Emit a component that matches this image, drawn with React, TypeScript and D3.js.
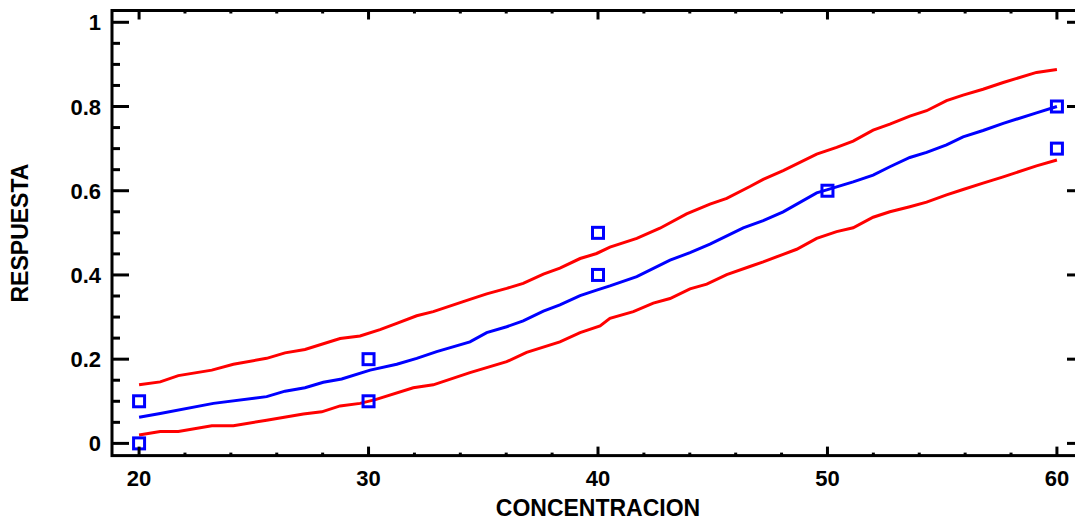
import React from "react";
import * as d3 from "d3";

// observed points
const obsX = [20, 20, 30, 30, 40, 40, 50, 60, 60];
const obsY = [0, 0.1, 0.1, 0.2, 0.4, 0.5, 0.6, 0.7, 0.8];

// fitted line (blue)
const fitX = [20, 20.92, 23.24, 25.56, 26.36, 27.23, 28.03, 28.83, 30.07, 31.23, 32.1, 32.97, 34.42, 35.15, 36.02, 36.74, 37.62, 38.34, 39.22, 39.94, 40.52, 41.69, 43.14, 44.01, 44.88, 46.33, 47.2, 48.07, 49.53, 49.97, 51.12, 51.99, 52.72, 53.59, 54.32, 55.19, 55.91, 56.78, 57.66, 59.11, 60];
const fitY = [0.062, 0.071, 0.095, 0.111, 0.124, 0.132, 0.145, 0.153, 0.174, 0.188, 0.202, 0.218, 0.241, 0.263, 0.277, 0.291, 0.314, 0.329, 0.351, 0.364, 0.374, 0.396, 0.435, 0.453, 0.473, 0.512, 0.529, 0.55, 0.595, 0.602, 0.621, 0.637, 0.657, 0.679, 0.691, 0.709, 0.728, 0.743, 0.76, 0.785, 0.8];

// upper limit (red)
const upX = [20, 20.92, 21.71, 23.17, 24.11, 25.56, 26.36, 27.23, 28.76, 29.63, 30.5, 31.23, 32.1, 32.82, 34.42, 35.15, 36.02, 36.74, 37.62, 38.34, 39.22, 39.94, 40.52, 41.69, 42.7, 43.86, 44.88, 45.61, 46.62, 47.2, 48.07, 49.53, 50.4, 51.12, 51.99, 52.72, 53.59, 54.32, 55.19, 55.91, 56.78, 57.66, 59.11, 60];
const upY = [0.139, 0.146, 0.161, 0.174, 0.188, 0.202, 0.215, 0.223, 0.249, 0.255, 0.27, 0.285, 0.303, 0.313, 0.342, 0.355, 0.368, 0.38, 0.402, 0.416, 0.439, 0.451, 0.466, 0.487, 0.511, 0.545, 0.568, 0.582, 0.61, 0.627, 0.648, 0.687, 0.703, 0.718, 0.744, 0.758, 0.777, 0.79, 0.814, 0.827, 0.841, 0.857, 0.881, 0.888];

// lower limit (red)
const loX = [20, 20.92, 21.71, 23.17, 24.11, 25.56, 27.16, 27.96, 28.76, 29.63, 30.3, 31.95, 32.82, 34.42, 36.02, 36.89, 38.34, 39.22, 40.09, 40.52, 41.54, 42.41, 43.14, 44.01, 44.74, 45.61, 46.62, 47.2, 48.07, 48.66, 49.53, 50.4, 51.12, 51.99, 52.72, 53.59, 54.32, 55.19, 55.91, 56.78, 57.66, 59.11, 60];
const loY = [0.02, 0.028, 0.028, 0.042, 0.042, 0.055, 0.07, 0.075, 0.089, 0.095, 0.104, 0.132, 0.139, 0.168, 0.194, 0.216, 0.241, 0.263, 0.279, 0.297, 0.313, 0.333, 0.344, 0.367, 0.378, 0.401, 0.42, 0.431, 0.449, 0.461, 0.487, 0.503, 0.512, 0.537, 0.55, 0.562, 0.573, 0.59, 0.603, 0.618, 0.633, 0.659, 0.673];

const xMajor = [20, 30, 40, 50, 60];
const yMajor = [0, 0.2, 0.4, 0.6, 0.8, 1];

const W = 1075;
const H = 522;
const left = 112;
const right = 1084;
const top = 10.5;
const bottom = 455.6;
const font = "'Liberation Sans', Arial, sans-serif";

export default function App() {
  const x = d3.scaleLinear().domain([18.82, 61.18]).range([left, right]);
  const y = d3.scaleLinear().domain([-0.029, 1.028]).range([bottom, top]);

  const xMinor = d3.range(20, 61, 2).filter((v) => !xMajor.includes(v));
  const yMinor = d3.range(0, 1.001, 0.05).map((v) => +v.toFixed(2)).filter((v) => !yMajor.includes(v));

  const line = d3
    .line<[number, number]>()
    .x((d) => x(d[0]))
    .y((d) => y(d[1]));

  const zip = (a: number[], b: number[]) => a.map((v, i) => [v, b[i]] as [number, number]);

  return (
    <svg width={W} height={H} style={{ position: "absolute", left: 0, top: 0, display: "block" }}>
      <rect width={W} height={H} fill="#fff" />

      <path d={line(zip(upX, upY)) || ""} fill="none" stroke="#ff0000" strokeWidth={3} />
      <path d={line(zip(loX, loY)) || ""} fill="none" stroke="#ff0000" strokeWidth={3} />
      <path d={line(zip(fitX, fitY)) || ""} fill="none" stroke="#0000ff" strokeWidth={3} />

      {obsX.map((v, i) => (
        <rect
          key={i}
          x={x(v) - 5.5}
          y={y(obsY[i]) - 5.5}
          width={11}
          height={11}
          fill="none"
          stroke="#0000ff"
          strokeWidth={3}
        />
      ))}

      {/* frame */}
      <rect x={left} y={top} width={right - left} height={bottom - top} fill="none" stroke="#000" strokeWidth={3} />

      {/* x ticks */}
      {xMajor.map((v) => (
        <g key={"xm" + v}>
          <line x1={x(v)} x2={x(v)} y1={bottom} y2={bottom - 9} stroke="#000" strokeWidth={3} />
          <line x1={x(v)} x2={x(v)} y1={top} y2={top + 9} stroke="#000" strokeWidth={3} />
          <text x={x(v)} y={486} textAnchor="middle" fontFamily={font} fontWeight="bold" fontSize={22}>
            {v}
          </text>
        </g>
      ))}
      {xMinor.map((v) => (
        <g key={"xn" + v}>
          <line x1={x(v)} x2={x(v)} y1={bottom} y2={bottom - 3} stroke="#000" strokeWidth={3} />
          <line x1={x(v)} x2={x(v)} y1={top} y2={top + 3} stroke="#000" strokeWidth={3} />
        </g>
      ))}

      {/* y ticks */}
      {yMajor.map((v) => (
        <g key={"ym" + v}>
          <line x1={left} x2={left + 17} y1={y(v)} y2={y(v)} stroke="#000" strokeWidth={3} />
          <line x1={right} x2={right - 17} y1={y(v)} y2={y(v)} stroke="#000" strokeWidth={3} />
          <text x={101} y={y(v) + 8} textAnchor="end" fontFamily={font} fontWeight="bold" fontSize={22}>
            {v === 0 || v === 1 ? String(v) : v.toFixed(1)}
          </text>
        </g>
      ))}
      {yMinor.map((v) => (
        <g key={"yn" + v}>
          <line x1={left} x2={left + 8} y1={y(v)} y2={y(v)} stroke="#000" strokeWidth={3} />
          <line x1={right} x2={right - 8} y1={y(v)} y2={y(v)} stroke="#000" strokeWidth={3} />
        </g>
      ))}

      {/* axis titles */}
      <text x={(left + right) / 2} y={516} textAnchor="middle" fontFamily={font} fontWeight="bold" fontSize={23}>
        CONCENTRACION
      </text>
      <text
        transform={`translate(28,${(top + bottom) / 2}) rotate(-90)`}
        textAnchor="middle"
        fontFamily={font}
        fontWeight="bold"
        fontSize={23}
      >
        RESPUESTA
      </text>
    </svg>
  );
}
